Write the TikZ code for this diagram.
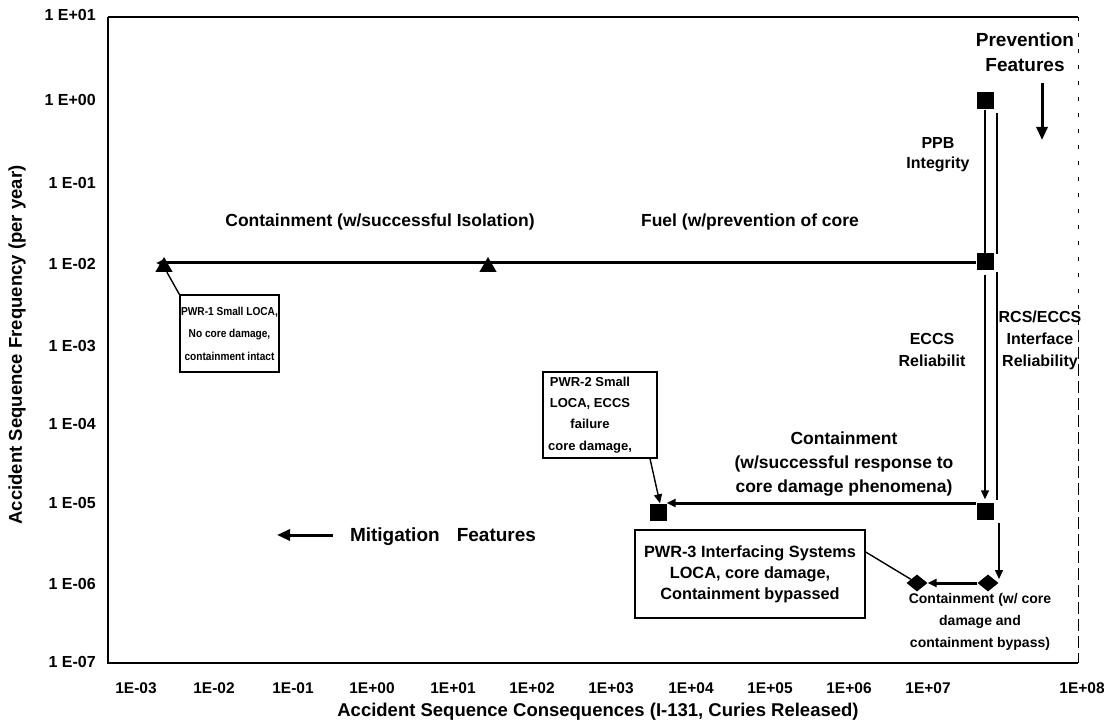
\documentclass[tikz,border=0pt]{standalone}
\usepackage{fontspec}
\setmainfont{Liberation Sans}
\newfontfamily\condfont{Liberation Sans}[FakeStretch=0.88]
\usetikzlibrary{arrows.meta,shapes.geometric}
\begin{document}
\begin{tikzpicture}[x=1pt,y=-1pt,
  frame/.style={line width=1.4pt},
  thickln/.style={line width=3pt},
  thinln/.style={line width=1.4pt},
  tip/.style={-{Triangle[length=9pt,width=8pt]}},
  bigtip/.style={-{Triangle[length=13pt,width=11pt]}},
  sqmark/.style={rectangle,fill=black,minimum size=17pt,inner sep=0pt},
  trimark/.style={regular polygon,regular polygon sides=3,fill=black,minimum size=20pt,inner sep=0pt},
  diamark/.style={diamond,fill=black,minimum width=21pt,minimum height=17pt,inner sep=0pt},
  lbl/.style={font=\fontsize{17.5}{24}\selectfont\bfseries,align=center,inner sep=0pt},
  lblmid/.style={font=\fontsize{16}{22}\selectfont\bfseries,align=center,inner sep=0pt},
  lblsmall/.style={font=\fontsize{14}{22}\selectfont\bfseries,align=center,inner sep=0pt},
  lblbig/.style={font=\fontsize{19}{25}\selectfont\bfseries,align=center,inner sep=0pt},
  boxst/.style={draw,line width=1.3pt,align=center,inner sep=0pt},
  xtick/.style={font=\fontsize{15.5}{17}\selectfont\bfseries,inner sep=0pt},
  ytick/.style={font=\fontsize{16}{18}\selectfont\bfseries,inner sep=0pt,anchor=east},
  axtitle/.style={font=\fontsize{18.5}{20}\selectfont\bfseries,inner sep=0pt}
]
\useasboundingbox (0,0) rectangle (1104,727);
\fill[white] (0,0) rectangle (1104,727);

% frame
\coordinate (tl) at (108,17);
\coordinate (bl) at (108,663);
\coordinate (br) at (1078,663);
\coordinate (tr) at (1078,17);
\coordinate (rm) at (1078,330);
\draw[frame] (tl) -- (bl) -- (br);
\draw[frame] (tl) -- (tr);
\draw[line width=1pt,dash pattern=on 4pt off 12pt] (tr) -- (rm);
\draw[line width=1pt,dash pattern=on 12pt off 5pt] (rm) -- (br);

% y tick labels
\node[ytick] (y1) at (96,15) {1 E+01};
\node[ytick] (y2) at (96,100) {1 E+00};
\node[ytick] (y3) at (96,183) {1 E-01};
\node[ytick] (y4) at (96,264) {1 E-02};
\node[ytick] (y5) at (96,346) {1 E-03};
\node[ytick] (y6) at (96,424) {1 E-04};
\node[ytick] (y7) at (96,503) {1 E-05};
\node[ytick] (y8) at (96,584) {1 E-06};
\node[ytick] (y9) at (96,662) {1 E-07};

% x tick labels
\node[xtick] (x1) at (136,688) {1E-03};
\node[xtick] (x2) at (214,688) {1E-02};
\node[xtick] (x3) at (293,688) {1E-01};
\node[xtick] (x4) at (372,688) {1E+00};
\node[xtick] (x5) at (453,688) {1E+01};
\node[xtick] (x6) at (532,688) {1E+02};
\node[xtick] (x7) at (611,688) {1E+03};
\node[xtick] (x8) at (691,688) {1E+04};
\node[xtick] (x9) at (770,688) {1E+05};
\node[xtick] (x10) at (849,688) {1E+06};
\node[xtick] (x11) at (928,688) {1E+07};
\node[xtick] (x12) at (1082,688) {1E+08};

% axis titles
\node[axtitle] (xt) at (598,712) {Accident Sequence Consequences (I-131, Curies Released)};
\node[axtitle,rotate=90] (yt) at (17,345) {Accident Sequence Frequency (per year)};

% markers
\node[sqmark] (s1) at (985,101) {};
\node[sqmark] (s2) at (985,262) {};
\node[sqmark] (s3) at (985,511) {};
\node[sqmark] (s4) at (658,512) {};
\node[trimark] (t1) at (164,267) {};
\node[trimark] (t2) at (488,267) {};
\node[diamark] (d1) at (917,583) {};
\node[diamark] (d2) at (988,583) {};

% row levels
\coordinate (row2) at (0,263);
\coordinate (row5) at (0,503);

% horizontal connectors
\draw[thickln] (s2.west |- row2) -- (t2.center |- row2);
\draw[thickln,tip] (t2.center |- row2) -- ([xshift=-8pt]t1.center |- row2);
\draw[thickln,tip] (s3.west |- row5) -- (s4.east |- row5);
\draw[thickln,tip] (d2.west) -- (d1.east);

% vertical connectors
\draw[thinln] (s1.south) -- (s2.north);
\draw[thinln,tip] ([yshift=-4pt]s2.south) -- ([yshift=3pt]s3.north);
\coordinate (rc1) at (997,113);
\coordinate (rc2) at (997,254);
\coordinate (rc3) at (997,272);
\coordinate (rc4) at (997,500);
\coordinate (rc5) at (999,523);
\coordinate (rc6) at (999,579);
\draw[thinln] (rc1) -- (rc2);
\draw[thinln] (rc3) -- (rc4);
\draw[thinln,tip] (rc5) -- (rc6);

% feature arrows
\coordinate (pa1) at (1042,83);
\coordinate (pa2) at (1042,140);
\draw[thickln,bigtip] (pa1) -- (pa2);
\coordinate (ma1) at (333,535);
\coordinate (ma2) at (277,535);
\draw[thickln,bigtip] (ma1) -- (ma2);

% labels
\node[lbl] (cwi) at (380,222) {Containment (w/successful Isolation)};
\node[lbl] (fuel) at (750,222) {Fuel (w/prevention of core};
\node[lbl] (cont5) at (844,464) {Containment\\(w/successful response to\\core damage phenomena)};
\node[lblsmall] (cont6) at (980,622) {Containment (w/ core\\damage and\\containment bypass)};
\node[lblmid,font=\fontsize{16}{20}\selectfont\bfseries] (ppb) at (938,155) {PPB\\Integrity};
\node[lblmid] (eccs) at (932,350) {ECCS\\Reliabilit};
\node[lblmid] (rcs) at (1040,340) {RCS/ECCS\\Interface\\Reliability};
\node[lblbig] (prev) at (1025,52) {Prevention\\Features};
\node[lblbig] (mit) at (443,537) {Mitigation\hspace{0.9em}Features};

% boxes
\node[boxst,minimum width=99pt,minimum height=77pt,font=\condfont\bfseries\fontsize{11.5}{22.5}\selectfont] (b1) at (229.5,333.5) {PWR-1 Small LOCA,\\No core damage,\\containment intact};
\node[boxst,minimum width=114pt,minimum height=86pt] (b2) at (600,415) {};
\node[align=center,inner sep=0pt,font=\fontsize{13}{21.3}\selectfont\bfseries] (b2t) at (590,415) {PWR-2 Small\\LOCA, ECCS\\failure\\core damage,};
\node[boxst,minimum width=230pt,minimum height=88pt,font=\fontsize{16.3}{21}\selectfont\bfseries] (b3) at (750,574) {PWR-3 Interfacing Systems\\LOCA, core damage,\\Containment bypassed};

% leader lines
\draw[thinln] (b1.north west) -- (t1);
\draw[thinln,tip] ([xshift=50pt]b2.south) -- ([xshift=2pt]s4.north);
\draw[thinln] ([yshift=22pt]b3.east) -- (d1);
\end{tikzpicture}
\end{document}
